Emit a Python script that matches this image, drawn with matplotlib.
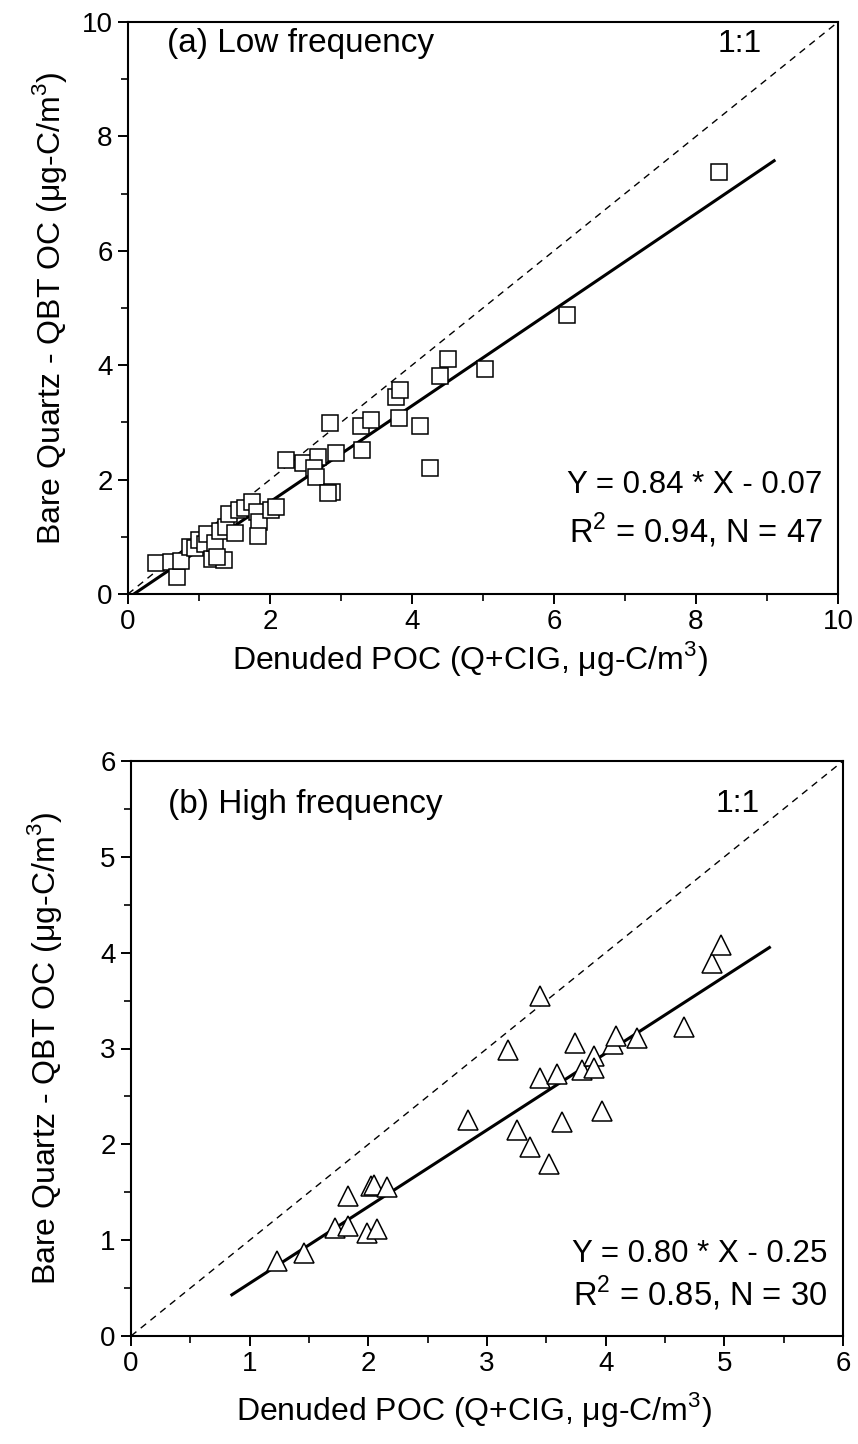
import matplotlib
matplotlib.use("Agg")
import matplotlib.pyplot as plt
from matplotlib.ticker import MultipleLocator
import numpy as np

plt.rcParams['font.family'] = ['Liberation Sans', 'DejaVu Sans']
plt.rcParams['mathtext.fontset'] = 'custom'
plt.rcParams['mathtext.rm'] = 'Liberation Sans'

# Panel (a) low frequency data
a_x = [0.40, 0.61, 0.69, 0.75, 0.87, 0.95, 1.00, 1.09, 1.11, 1.18, 1.22, 1.35, 1.30, 1.38,
       1.42, 1.51, 1.56, 1.65, 1.75, 1.82, 1.84, 1.83, 2.01, 2.08, 2.22, 2.47, 2.67, 2.62,
       2.65, 2.84, 2.93, 2.88, 2.82, 3.28, 3.42, 3.30, 3.77, 3.83, 3.82, 4.11, 4.26, 4.39,
       4.51, 5.03, 6.18, 8.32, 1.25]
a_y = [0.54, 0.56, 0.30, 0.58, 0.82, 0.80, 0.95, 0.88, 1.05, 0.61, 0.90, 0.60, 1.11, 1.18,
       1.40, 1.06, 1.46, 1.50, 1.61, 1.43, 1.26, 1.02, 1.46, 1.52, 2.34, 2.29, 2.39, 2.21,
       2.05, 2.99, 2.47, 1.78, 1.76, 2.93, 3.05, 2.51, 3.45, 3.57, 3.08, 2.93, 2.20, 3.81,
       4.11, 3.93, 4.88, 7.37, 0.65]
a_slope, a_icpt = 0.84, -0.07
a_fit_x = [0.08, 9.1]

# Panel (b) high frequency data
b_x = [1.23, 1.455, 1.83, 1.72, 1.83, 1.99, 2.07, 2.02, 2.05, 2.16,
       2.84, 3.25, 3.36, 3.52, 3.63, 3.97, 3.18, 3.45, 3.45, 3.59,
       3.74, 3.80, 3.90, 3.90, 4.06, 4.09, 4.26, 4.66, 4.90, 4.97]
b_y = [0.78, 0.87, 1.46, 1.13, 1.15, 1.07, 1.12, 1.57, 1.58, 1.56,
       2.25, 2.15, 1.97, 1.80, 2.23, 2.35, 2.98, 3.55, 2.69, 2.73,
       3.06, 2.78, 2.92, 2.80, 3.05, 3.13, 3.11, 3.22, 3.89, 4.08]
b_slope, b_icpt = 0.80, -0.25
b_fit_x = [0.85, 5.38]

xlabel = 'Denuded POC (Q+CIG, μg-C/m$^3$)'
ylabel = 'Bare Quartz - QBT OC (μg-C/m$^3$)'

fig = plt.figure(figsize=(8.58, 14.44), dpi=100)
axa = fig.add_axes([128/858, 1-594/1444, 710/858, 572/1444])
axb = fig.add_axes([131/858, 1-1336/1444, 712/858, 575/1444])

def style(ax, lim, major, minor, xpad, ypad):
    ax.set_xlim(0, lim)
    ax.set_ylim(0, lim)
    ax.xaxis.set_major_locator(MultipleLocator(major))
    ax.xaxis.set_minor_locator(MultipleLocator(minor))
    ax.yaxis.set_major_locator(MultipleLocator(major))
    ax.yaxis.set_minor_locator(MultipleLocator(minor))
    ax.tick_params(which='major', direction='out', length=7, width=1.4, labelsize=20, pad=4)
    ax.tick_params(which='minor', direction='out', length=5, width=1.2)
    for s in ax.spines.values():
        s.set_linewidth(1.5)
    ax.set_xlabel(xlabel, fontsize=23, labelpad=xpad)
    ax.set_ylabel(ylabel, fontsize=23, labelpad=ypad)
    ax.xaxis.label.set_x(0.482)

# Panel a
style(axa, 10, 2, 1, 3, 9)
axa.plot([0, 10], [0, 10], ls=(0, (5, 4)), color='black', lw=1.0)
fx = np.array(a_fit_x)
axa.plot(fx, a_slope*fx + a_icpt, color='black', lw=2.2)
axa.plot(a_x, a_y, ls='none', marker='s', ms=11.5, mfc='white', mec='black', mew=1.1)
axa.text(0.55, 9.62, '(a) Low frequency', fontsize=24, va='center', ha='left')
axa.text(8.3, 9.62, '1:1', fontsize=23, va='center', ha='left')
axa.text(9.78, 1.9, 'Y = 0.84 * X - 0.07', fontsize=22.5, va='center', ha='right')
axa.text(9.78, 1.12, 'R$^2$ = 0.94, N = 47', fontsize=23.5, va='center', ha='right')

# Panel b
style(axb, 6, 1, 0.5, 9, 26)
axb.plot([0, 6], [0, 6], ls=(0, (5, 4)), color='black', lw=1.0)
fx = np.array(b_fit_x)
axb.plot(fx, b_slope*fx + b_icpt, color='black', lw=2.2)
axb.plot(b_x, b_y, ls='none', marker='^', ms=14, mfc='white', mec='black', mew=1.1)
axb.text(0.31, 5.55, '(b) High frequency', fontsize=24, va='center', ha='left')
axb.text(4.93, 5.55, '1:1', fontsize=23, va='center', ha='left')
axb.text(5.87, 0.86, 'Y = 0.80 * X - 0.25', fontsize=22.5, va='center', ha='right')
axb.text(5.87, 0.44, 'R$^2$ = 0.85, N = 30', fontsize=23.5, va='center', ha='right')

fig.savefig('out.png', dpi=100)
